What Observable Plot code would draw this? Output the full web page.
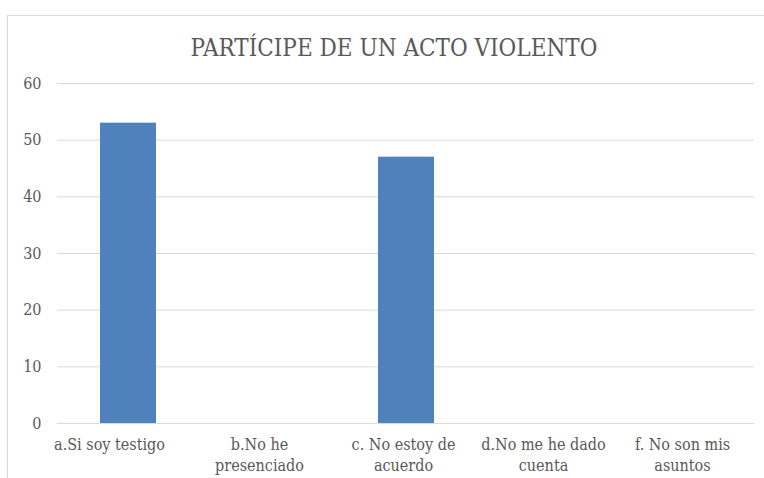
<!DOCTYPE html>
<html>
<head>
<meta charset="utf-8">
<script src="https://cdn.jsdelivr.net/npm/d3@7"></script>
<script src="https://cdn.jsdelivr.net/npm/@observablehq/plot@0.6"></script>
<style>
  body { margin: 0; background: #fff; }
  #wrap { position: relative; width: 764px; height: 478px; overflow: hidden; }
  #border { position: absolute; left: 7px; top: 15px; width: 820px; height: 520px; border: 1px solid #d9d9d9; box-sizing: border-box; pointer-events: none; }
  #wrap svg, #wrap svg text { font-family: "DejaVu Serif Condensed", "DejaVu Serif", serif !important; font-stretch: condensed; }
</style>
</head>
<body>
<div id="wrap"><div id="border"></div></div>
<script>
const title = "PARTÍCIPE DE UN ACTO VIOLENTO";
const categories = [
  "a.Si soy testigo",
  "b.No he\npresenciado",
  "c. No estoy de\nacuerdo",
  "d.No me he dado\ncuenta",
  "f. No son mis\nasuntos"
];
const values = [53, 0, 47, 0, 0];
const yTicks = [0, 10, 20, 30, 40, 50, 60];

const data = categories.map((c, i) => ({category: c, value: values[i]}));
const labelShift = [-19, -8, -3, -2, -2];

const chart = Plot.plot({
  width: 764,
  height: 478,
  marginLeft: 57,
  marginRight: 10,
  marginTop: 83,
  marginBottom: 55,
  style: {color: "#595959", background: "transparent"},
  x: {domain: categories, paddingInner: 0.6, paddingOuter: 0.3, label: null},
  y: {domain: [0, 60], label: null},
  marks: [
    Plot.gridY(yTicks, {stroke: "#d9d9d9", strokeOpacity: 1, strokeWidth: 1}),
    Plot.axisY(yTicks, {tickSize: 0, tickPadding: 16, fontSize: 16, fill: "#595959", label: null}),
    ...categories.map((c, i) =>
      Plot.axisX([c], {tickSize: 0, tickPadding: 11, fontSize: 16, fill: "#595959", lineHeight: 1.35, dx: labelShift[i], label: null})
    ),
    Plot.barY(data, {x: "category", y: "value", fill: "#4f81bd"}),
    Plot.text([title], {frameAnchor: "top", dy: -28, dx: -12, lineAnchor: "bottom", fontSize: 24, fill: "#595959"})
  ]
});
document.getElementById("wrap").prepend(chart);
</script>
</body>
</html>
